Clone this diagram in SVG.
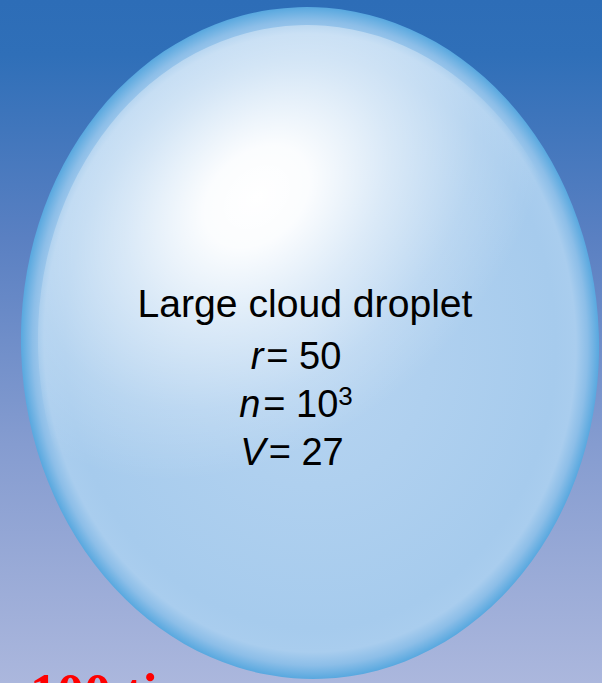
<svg xmlns="http://www.w3.org/2000/svg" width="602" height="683" viewBox="0 0 602 683">
  <defs>
    <linearGradient id="bg" x1="0" y1="0" x2="0" y2="1">
      <stop offset="0" stop-color="#2d6db7"/>
      <stop offset="0.08" stop-color="#2f6fb8"/>
      <stop offset="0.35" stop-color="#5a80c2"/>
      <stop offset="0.65" stop-color="#859cd0"/>
      <stop offset="1" stop-color="#abb7dd"/>
    </linearGradient>
    <radialGradient id="body" cx="0.5" cy="0.5" r="0.5">
      <stop offset="0" stop-color="#b8d5f1"/>
      <stop offset="0.85" stop-color="#a6cbed"/>
      <stop offset="0.92" stop-color="#a9cdee"/>
      <stop offset="0.96" stop-color="#8cbee8"/>
      <stop offset="1" stop-color="#58a8df"/>
    </radialGradient>
    <radialGradient id="hl" gradientUnits="userSpaceOnUse" cx="0" cy="0" r="1" gradientTransform="translate(262 195) rotate(-40) scale(330 240)">
      <stop offset="0" stop-color="#ffffff" stop-opacity="1"/>
      <stop offset="0.18" stop-color="#ffffff" stop-opacity="0.95"/>
      <stop offset="0.45" stop-color="#ffffff" stop-opacity="0.55"/>
      <stop offset="0.75" stop-color="#ffffff" stop-opacity="0.18"/>
      <stop offset="1" stop-color="#ffffff" stop-opacity="0"/>
    </radialGradient>
    <style>
      .lbl { font-family: "Liberation Sans", Arial, sans-serif; font-size: 38px; fill: #000; text-anchor: middle; }
      .it { font-style: italic; }
      .red { font-family: "Liberation Serif", "Times New Roman", serif; font-weight: bold; font-size: 54px; fill: #ff0000; }
    </style>
  </defs>
  <rect width="602" height="683" fill="url(#bg)"/>
  <g id="droplet">
    <ellipse cx="310" cy="343" rx="289" ry="336" transform="rotate(-2 310 343)" fill="url(#body)"/>
    <ellipse cx="310" cy="343" rx="272" ry="318" transform="rotate(-2 310 343)" fill="url(#hl)"/>
    <text class="lbl" x="305" y="317" textLength="335" lengthAdjust="spacingAndGlyphs">Large cloud droplet</text>
    <text class="lbl" x="296" y="369"><tspan class="it">r</tspan><tspan dx="3">= 50</tspan></text>
    <text class="lbl" x="296" y="417"><tspan class="it">n</tspan><tspan dx="3">= 10</tspan><tspan font-size="26" dy="-12">3</tspan></text>
    <text class="lbl" x="292" y="465"><tspan class="it">V</tspan><tspan dx="3">= 27</tspan></text>
  </g>
  <g id="caption">
    <text class="red" x="30" y="711">100 ti</text>
  </g>
</svg>
